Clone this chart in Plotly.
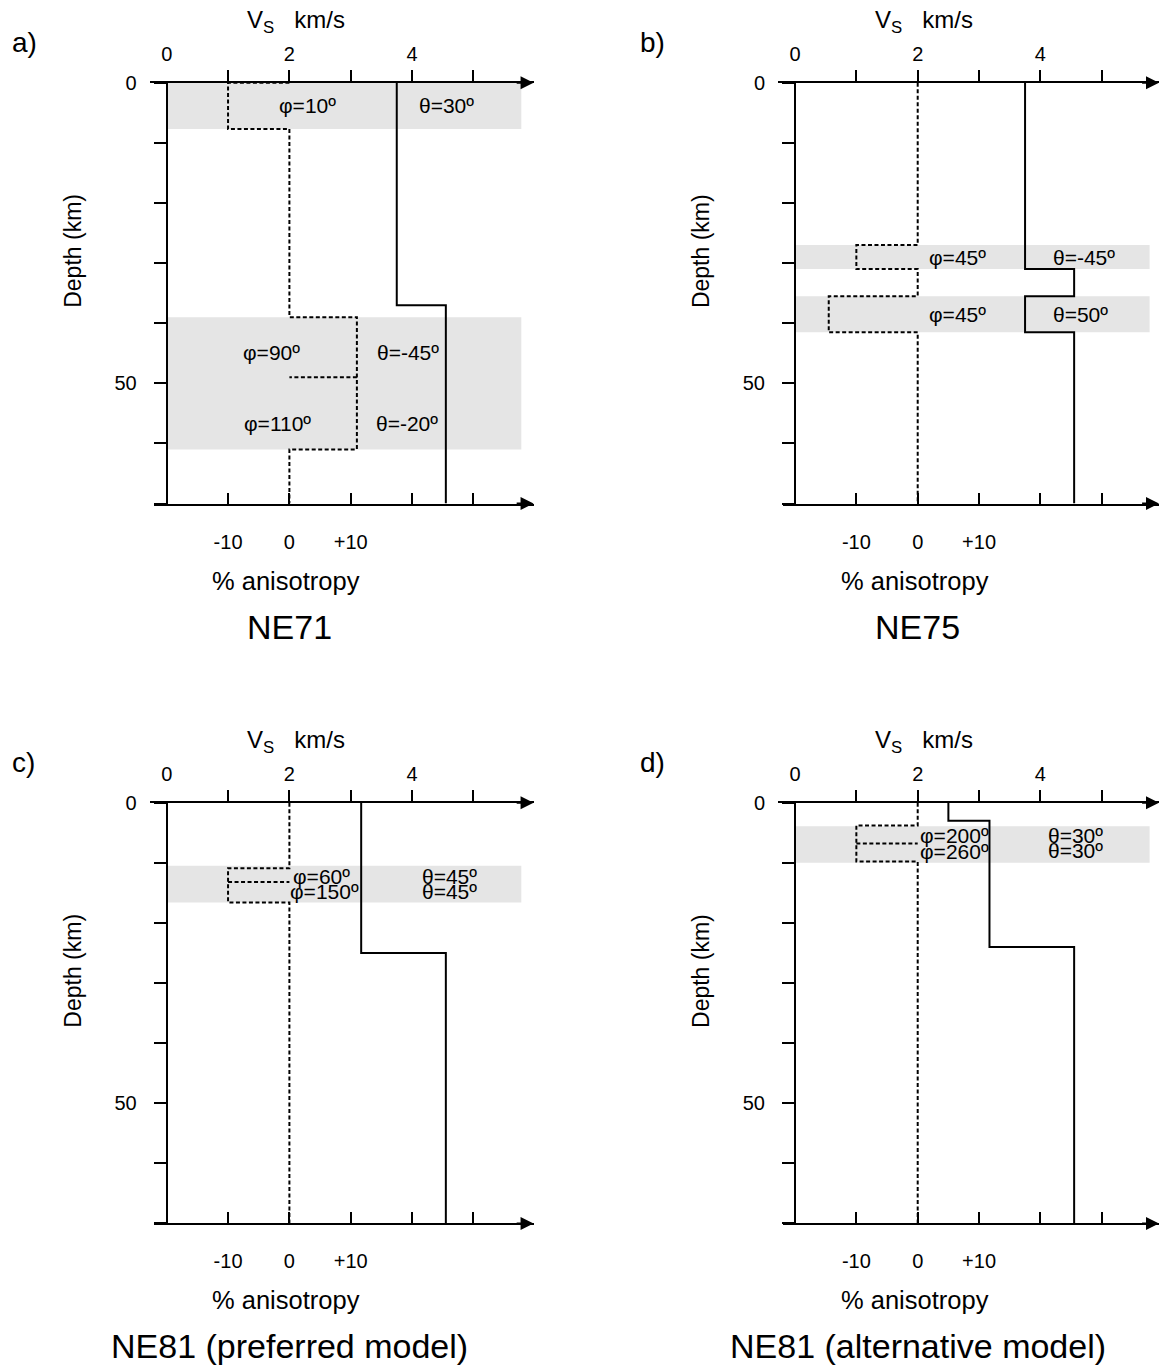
import plotly.graph_objects as go

# ---------------- data ----------------
panel_letters = ['a)', 'b)', 'c)', 'd)']
panel_titles = ['NE71', 'NE75', 'NE81 (preferred model)', 'NE81 (alternative model)']

vs_tick_vals = [0, 2, 4]
vs_tick_text = ['0', '2', '4']
vs_minor_vals = [1, 2, 3, 4, 5]
aniso_tick_vals = [-10, 0, 10, 20, 30]
aniso_tick_text = ['-10', '0', '+10', '', '']
depth_tick_vals = [0, 10, 20, 30, 40, 50, 60, 70]
depth_tick_text = ['0', '', '', '', '', '50', '', '']
depth_max = 70

# Vs layers (km/s): top depth of each layer and velocity
vs_tops_a = [0, 37]
vs_vals_a = [3.75, 4.55]
vs_tops_b = [0, 31, 35.5, 41.5]
vs_vals_b = [3.75, 4.55, 3.75, 4.55]
vs_tops_c = [0, 25]
vs_vals_c = [3.17, 4.55]
vs_tops_d = [0, 3, 24]
vs_vals_d = [2.5, 3.17, 4.55]

# anisotropic layers: top, bottom, % anisotropy
an_tops_a = [0, 39, 49]
an_bots_a = [7.7, 49, 61]
an_pct_a = [-10, 11, 11]
an_tops_b = [27, 35.5]
an_bots_b = [31, 41.5]
an_pct_b = [-10, -14.5]
an_tops_c = [10.9, 13.2]
an_bots_c = [13.2, 16.6]
an_pct_c = [-10, -10]
an_tops_d = [3.8, 6.8]
an_bots_d = [6.8, 9.8]
an_pct_d = [-10, -10]

# shaded anisotropic zones (depth top, bottom)
band_tops_a = [0, 39]
band_bots_a = [7.7, 61]
band_tops_b = [27, 35.5]
band_bots_b = [31, 41.5]
band_tops_c = [10.5]
band_bots_c = [16.6]
band_tops_d = [3.9]
band_bots_d = [10]
band_vs_end = 5.78

# labels: text, Vs position, depth, anchor
labels_a = [('φ=10º', 2.3, 3.7, 'center'), ('θ=30º', 4.56, 3.7, 'center'),
            ('φ=90º', 1.71, 44.9, 'center'), ('θ=-45º', 3.93, 44.9, 'center'),
            ('φ=110º', 1.80, 56.7, 'center'), ('θ=-20º', 3.92, 56.7, 'center')]
labels_b = [('φ=45º', 2.65, 29.0, 'center'), ('θ=-45º', 4.71, 29.0, 'center'),
            ('φ=45º', 2.65, 38.5, 'center'), ('θ=50º', 4.66, 38.5, 'center')]
labels_c = [('φ=60º', 2.03, 12.3, 'left'), ('φ=150º', 1.98, 14.8, 'left'),
            ('θ=45º', 4.61, 12.3, 'center'), ('θ=45º', 4.61, 14.8, 'center')]
labels_d = [('φ=200º', 2.0, 5.4, 'left'), ('φ=260º', 2.0, 8.1, 'left'),
            ('θ=30º', 4.58, 5.4, 'center'), ('θ=30º', 4.58, 8.0, 'center')]

vs_tops = [vs_tops_a, vs_tops_b, vs_tops_c, vs_tops_d]
vs_vals = [vs_vals_a, vs_vals_b, vs_vals_c, vs_vals_d]
an_tops = [an_tops_a, an_tops_b, an_tops_c, an_tops_d]
an_bots = [an_bots_a, an_bots_b, an_bots_c, an_bots_d]
an_pcts = [an_pct_a, an_pct_b, an_pct_c, an_pct_d]
band_tops = [band_tops_a, band_tops_b, band_tops_c, band_tops_d]
band_bots = [band_bots_a, band_bots_b, band_bots_c, band_bots_d]
labels = [labels_a, labels_b, labels_c, labels_d]

# ---------------- layout geometry ----------------
W, H = 1159, 1365
SX = 61.35   # px per km/s
SY = 6.01    # px per km
origin_x = [166.7, 795.0, 166.7, 795.0]
origin_y = [82.8, 82.8, 802.7, 802.7]
FONT = 'Liberation Sans, Arial, Helvetica, sans-serif'


def vs_path(tops, vals, zmax):
    xs, ys = [], []
    for k, (t, v) in enumerate(zip(tops, vals)):
        b = tops[k + 1] if k + 1 < len(tops) else zmax
        xs += [v, v]
        ys += [t, b]
    return xs, ys


def aniso_path(tops, bots, pcts, zmax):
    xs, ys = [0], [0]
    extra_x, extra_y = [], []
    cur, curv = 0, 0
    for t, b, v in zip(tops, bots, pcts):
        if t > cur:
            if curv != 0:
                xs.append(0); ys.append(cur)
            xs.append(0); ys.append(t)
            curv = 0
        elif curv != 0 and curv == v:
            extra_x += [None, v, 0]
            extra_y += [None, t, t]
        elif curv != 0:
            xs.append(0); ys.append(t)
            curv = 0
        if curv != v:
            xs.append(v); ys.append(t)
        xs.append(v); ys.append(b)
        cur, curv = b, v
    if curv != 0:
        xs.append(0); ys.append(cur)
    xs.append(0); ys.append(zmax)
    return xs + extra_x, ys + extra_y


fig = go.Figure()
layout = dict(width=W, height=H, margin=dict(l=0, r=0, t=0, b=0, pad=0),
              autosize=False,
              paper_bgcolor='white', plot_bgcolor='rgba(0,0,0,0)',
              showlegend=False, font=dict(family=FONT, color='black'))
shapes, annotations = [], []

for i in range(4):
    n = i + 1
    x0, y0 = origin_x[i], origin_y[i]
    end_px = min(x0 + 5.98 * SX, W)
    vs_end = (end_px - x0) / SX
    vs_start = -17.0 / SX
    an_start_vs = -12.5 / SX
    ytop = 1 - y0 / H
    ybot = 1 - (y0 + depth_max * SY) / H

    xv, xa, ya = f'x{n}', f'x{n + 4}', f'y{n}'

    layout[f'xaxis{n}'] = dict(
        domain=[(x0 - 17.0) / W, end_px / W], range=[vs_start, vs_end],
        anchor=ya, side='top', showline=True, linewidth=2, linecolor='black',
        showgrid=False, zeroline=False, tickmode='array', tickvals=vs_tick_vals,
        ticktext=vs_tick_text, ticks='inside', ticklen=0, tickfont=dict(size=20),
        ticklabelstandoff=12, automargin=False,
        minor=dict(tickmode='array', tickvals=vs_minor_vals, ticks='outside',
                   ticklen=11, tickwidth=2, tickcolor='black', showgrid=False),
        fixedrange=True)
    layout[f'xaxis{n + 4}'] = dict(
        domain=[(x0 - 12.5) / W, end_px / W],
        range=[(an_start_vs - 2) * 10, (vs_end - 2) * 10],
        anchor=ya, side='bottom', showline=True, linewidth=2, linecolor='black',
        showgrid=False, zeroline=False, tickmode='array', tickvals=aniso_tick_vals,
        ticktext=aniso_tick_text, ticks='inside', ticklen=11, tickwidth=2,
        tickcolor='black', tickfont=dict(size=20), ticklabelstandoff=19,
        automargin=False, fixedrange=True)
    layout[f'yaxis{n}'] = dict(
        domain=[ybot, ytop], range=[depth_max, 0], anchor='free', position=x0 / W,
        showline=True, linewidth=2, linecolor='black', showgrid=False, zeroline=False,
        tickmode='array', tickvals=depth_tick_vals, ticktext=depth_tick_text,
        ticks='outside', ticklen=12, tickwidth=2, tickcolor='black',
        tickfont=dict(size=20), ticklabelstandoff=13, automargin=False,
        fixedrange=True)

    # shaded bands
    for bt, bb in zip(band_tops[i], band_bots[i]):
        shapes.append(dict(type='rect', xref=xv, yref=ya, x0=0, x1=band_vs_end,
                           y0=bt, y1=bb, fillcolor='#e5e5e5', line=dict(width=0),
                           layer='below'))

    # Vs profile
    vx, vy = vs_path(vs_tops[i], vs_vals[i], depth_max)
    fig.add_trace(go.Scatter(x=vx, y=vy, xaxis=xv, yaxis=ya, mode='lines',
                             line=dict(color='black', width=2), hoverinfo='skip'))
    # anisotropy profile
    ax_, ay_ = aniso_path(an_tops[i], an_bots[i], an_pcts[i], depth_max)
    fig.add_trace(go.Scatter(x=ax_, y=ay_, xaxis=xa, yaxis=ya, mode='lines',
                             line=dict(color='black', width=2, dash='4px,2.5px'),
                             connectgaps=False, hoverinfo='skip'))

    # arrow heads on top and bottom axes
    for yy in [0, depth_max]:
        annotations.append(dict(x=vs_end - 1e-6, y=yy, xref=xv, yref=ya,
                                ax=vs_end - 0.3, ay=yy, axref=xv, ayref=ya,
                                text='', showarrow=True, arrowhead=2, arrowsize=1.3,
                                arrowwidth=2, arrowcolor='black', standoff=0))

    # layer labels
    for txt, lx, ly, anc in labels[i]:
        annotations.append(dict(x=lx, y=ly, xref=xv, yref=ya, text=txt,
                                showarrow=False, xanchor=anc, yanchor='middle',
                                font=dict(size=21)))

    # axis titles
    annotations.append(dict(x=2.1, y=0, xref=xv, yref=ya,
                            text='V<sub>S</sub>\u00a0\u00a0 km/s', showarrow=False,
                            xanchor='center', yanchor='middle', yshift=61,
                            font=dict(size=24)))
    annotations.append(dict(x=1.95, y=depth_max, xref=xv, yref=ya, text='% anisotropy',
                            showarrow=False, xanchor='center', yanchor='middle',
                            yshift=-77, font=dict(size=25.5)))
    annotations.append(dict(x=2, y=depth_max, xref=xv, yref=ya, text=panel_titles[i],
                            showarrow=False, xanchor='center', yanchor='middle',
                            yshift=-123, font=dict(size=34)))
    annotations.append(dict(x=(x0 - 94) / W, y=28, xref='paper', yref=ya,
                            text='Depth (km)', showarrow=False, textangle=-90,
                            xanchor='center', yanchor='middle', font=dict(size=23)))
    annotations.append(dict(x=(x0 - 157) / W, y=1 - (y0 - 40) / H, xref='paper',
                            yref='paper', text=panel_letters[i], showarrow=False,
                            xanchor='left', yanchor='middle', font=dict(size=28)))

layout['shapes'] = shapes
layout['annotations'] = annotations
fig.update_layout(**layout)
fig.write_html('out.html')
